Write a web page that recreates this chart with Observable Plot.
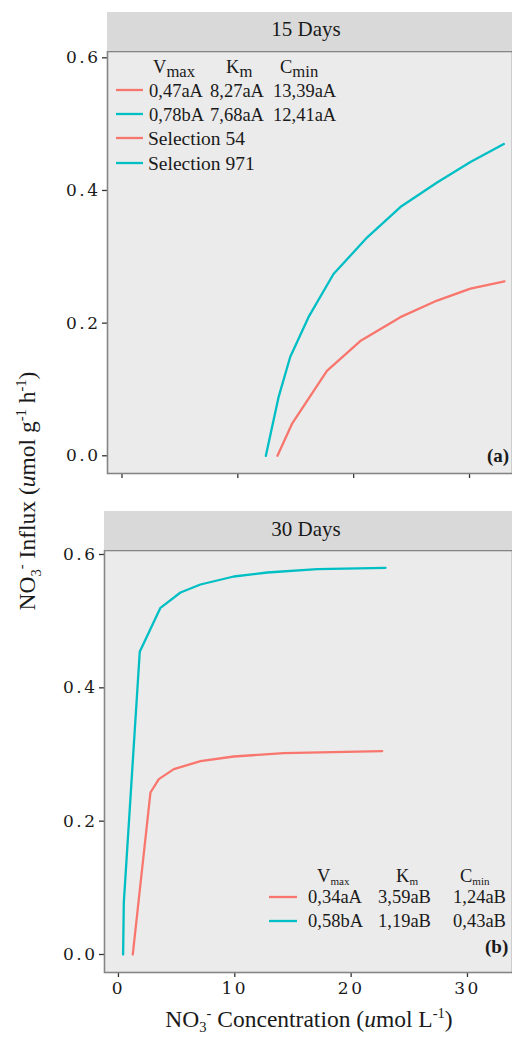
<!DOCTYPE html>
<html><head><meta charset="utf-8">
<script src="https://cdn.jsdelivr.net/npm/d3@7"></script>
<script src="https://cdn.jsdelivr.net/npm/@observablehq/plot@0.6"></script>
<style>
html,body{margin:0;padding:0;background:#fff;}
#root{position:relative;width:512px;height:1038px;overflow:hidden;background:#fff;}
#root > svg{position:absolute;left:0;}
</style></head>
<body><div id="root"></div>
<script>
// ---- data ----
const xTicks = [0, 10, 20, 30];
const yTicks = [0, 0.2, 0.4, 0.6];
const selections = ["Selection 54", "Selection 971"];
const selColors = ["#F8766D", "#00BFC4"];
const panelTitles = ["15 Days", "30 Days"];
const panelTags = ["(a)", "(b)"];

// 15 days
const c15_s54  = [13.42, 14.67, 17.69, 20.57, 24.03, 27.20, 30.08, 33.02];
const v15_s54  = [0, 0.048, 0.128, 0.173, 0.209, 0.234, 0.252, 0.263];
const c15_s971 = [12.42, 13.51, 14.52, 16.10, 18.26, 21.15, 24.03, 27.20, 30.08, 32.96];
const v15_s971 = [0, 0.088, 0.149, 0.209, 0.274, 0.329, 0.375, 0.412, 0.443, 0.470];
// 30 days
const c30_s54  = [1.23, 2.75, 3.47, 4.76, 7.05, 9.91, 14.21, 22.67];
const v30_s54  = [0, 0.243, 0.263, 0.278, 0.290, 0.297, 0.302, 0.305];
const c30_s971 = [0.40, 0.46, 1.83, 3.61, 5.33, 7.05, 9.91, 12.79, 17.09, 22.96];
const v30_s971 = [0, 0.078, 0.454, 0.520, 0.543, 0.555, 0.567, 0.573, 0.578, 0.580];

const legendHeader = [["V", "max"], ["K", "m"], ["C", "min"]];
const legend15 = [["0,47aA", "8,27aA", "13,39aA"], ["0,78bA", "7,68aA", "12,41aA"]];
const legend30 = [["0,34aA", "3,59aB", "1,24aB"], ["0,58bA", "1,19aB", "0,43aB"]];

function rows(c, v, sel) { return c.map((d, i) => ({c: d, v: v[i], sel})); }
const data15 = [...rows(c15_s54, v15_s54, selections[0]), ...rows(c15_s971, v15_s971, selections[1])];
const data30 = [...rows(c30_s54, v30_s54, selections[0]), ...rows(c30_s971, v30_s971, selections[1])];

const root = document.getElementById("root");

function panel(data, {left, xDomain, yDomain, showX, mb}) {
  return Plot.plot({
    width: 512, height: 39 + 422 + mb,
    marginTop: 39, marginLeft: left, marginRight: 0, marginBottom: mb,
    x: {domain: xDomain},
    y: {domain: yDomain},
    color: {domain: selections, range: selColors},
    style: {fontFamily: "DejaVu Serif", fontSize: "17px", color: "#1a1a1a", background: "none", overflow: "visible", letterSpacing: "2.5px"},
    marks: [
      Plot.frame({fill: "#EBEBEB"}),
      Plot.axisY({ticks: yTicks, tickSize: 5, tickPadding: 2, tickFormat: d3.format(".1f"), label: null, stroke: "#333", strokeWidth: 1.3}),
      Plot.axisX({ticks: xTicks, tickSize: 5, tickPadding: 4, tickFormat: showX ? (d => String(d)) : (() => ""), label: null, stroke: "#333", strokeWidth: 1.3}),
      Plot.line(data, {x: "c", y: "v", z: "sel", stroke: "sel", strokeWidth: 2.3}),
      Plot.frame({stroke: "#858585", strokeWidth: 1.6})
    ]
  });
}

const p1 = panel(data15, {left: 107, xDomain: [-1.25, 33.71], yDomain: [-0.0267, 0.6095], showX: false, mb: 12});
p1.style.top = "12px";
root.appendChild(p1);
const p2 = panel(data30, {left: 104, xDomain: [-1.20, 33.87], yDomain: [-0.027, 0.606], showX: true, mb: 30});
p2.style.top = "511px";
root.appendChild(p2);

// ---- overlay text ----
const ov = d3.select(root).append("svg").attr("width", 512).attr("height", 1038)
  .style("top", "0px").style("font-family", "'Liberation Serif', serif").style("fill", "#1a1a1a");

function rich(parts, {x, y, size, anchor = "start", weight = "normal", subScale = 0.62, subShift = 0.25, supShift = 0.4, g = ov}) {
  const t = g.append("text").attr("x", x).attr("y", y).attr("font-size", size)
    .attr("text-anchor", anchor).attr("font-weight", weight);
  let off = 0;
  for (const [s, k] of parts) {
    const target = k === "sub" ? size * subShift : k === "sup" ? -size * supShift : 0;
    const ts = t.append("tspan").text(s).attr("dy", target - off);
    if (k === "sub" || k === "sup") ts.attr("font-size", size * subScale);
    if (k === "i") ts.attr("font-style", "italic");
    off = target;
  }
  return t;
}

// strips
const strips = [{x: 107, y: 12, title: panelTitles[0], base: 36}, {x: 104, y: 511, title: panelTitles[1], base: 536}];
strips.forEach(s => {
  ov.append("rect").attr("x", s.x).attr("y", s.y).attr("width", 512 - s.x).attr("height", 38).attr("fill", "#D9D9D9");
  ov.append("text").attr("x", 306).attr("y", s.base).attr("text-anchor", "middle").attr("font-size", 21).text(s.title);
});

// panel tags
ov.append("text").attr("x", 487).attr("y", 462).attr("font-size", 19).attr("font-weight", "bold").text(panelTags[0]);
ov.append("text").attr("x", 485).attr("y", 953).attr("font-size", 19).attr("font-weight", "bold").text(panelTags[1]);

const LF = 18.5;
// legend 15 days
const l1cols = [153, 226, 280];
legendHeader.forEach((h, i) => rich([[h[0], "n"], [h[1], "sub"]], {x: l1cols[i], y: 73, size: LF, subScale: 0.9, subShift: 0.2}));
const l1text = [149, 210, 273];
legend15.forEach((r, j) => {
  const ky = 90 + j * 24;
  ov.append("line").attr("x1", 116).attr("x2", 143).attr("y1", ky).attr("y2", ky).attr("stroke", selColors[j]).attr("stroke-width", 2.3);
  r.forEach((s, i) => ov.append("text").attr("x", l1text[i]).attr("y", ky + 7).attr("font-size", LF).text(s));
});
selections.forEach((s, j) => {
  const ky = 138 + j * 25;
  ov.append("line").attr("x1", 116).attr("x2", 143).attr("y1", ky).attr("y2", ky).attr("stroke", selColors[j]).attr("stroke-width", 2.3);
  ov.append("text").attr("x", 148).attr("y", ky + 7).attr("font-size", 19.5).text(s);
});

// legend 30 days
const l2cols = [317, 396, 460];
legendHeader.forEach((h, i) => rich([[h[0], "n"], [h[1], "sub"]], {x: l2cols[i], y: 882, size: LF, subScale: 0.6, subShift: 0.18}));
const l2text = [308, 378, 453];
legend30.forEach((r, j) => {
  const ky = 897 + j * 24;
  ov.append("line").attr("x1", 269).attr("x2", 297).attr("y1", ky).attr("y2", ky).attr("stroke", selColors[j]).attr("stroke-width", 2.3);
  r.forEach((s, i) => ov.append("text").attr("x", l2text[i]).attr("y", ky + 6).attr("font-size", LF).text(s));
});

// axis titles
const yt = ov.append("g").attr("transform", "translate(35,491) rotate(-90)");
rich([["NO", "n"], ["3", "sub"], ["-", "sup"], [" Influx (", "n"], ["u", "i"], ["mol g", "n"], ["-1", "sup"], [" h", "n"], ["-1", "sup"], [")", "n"]],
  {x: 0, y: 0, size: 23.5, anchor: "middle", g: yt});
rich([["NO", "n"], ["3", "sub"], ["-", "sup"], [" Concentration (", "n"], ["u", "i"], ["mol L", "n"], ["-1", "sup"], [")", "n"]],
  {x: 309, y: 1027, size: 23.5, anchor: "middle", subShift: 0.2});
</script></body></html>
